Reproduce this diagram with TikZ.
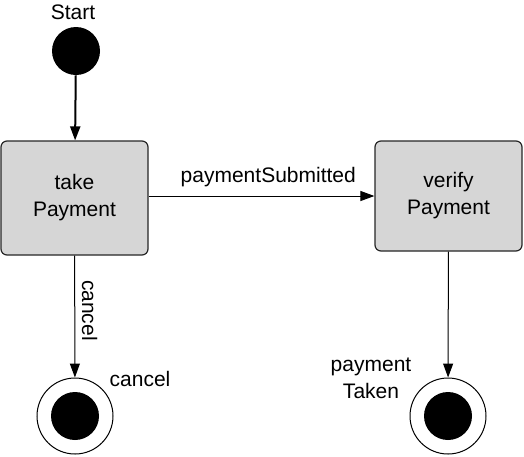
\documentclass[tikz,border=0pt]{standalone}
\usepackage{fontspec}
\setmainfont{Liberation Sans}
\usetikzlibrary{positioning}
\usetikzlibrary{arrows.meta}

\tikzset{
  statebox/.style={draw=black!85, line width=0.6pt, rounded corners=3pt,
    fill={rgb,255:red,214;green,214;blue,214}, align=center,
    minimum width=73.5pt, minimum height=57pt},
  initial/.style={circle, fill=black, minimum size=24pt, inner sep=0pt},
  final/.style={circle, draw, line width=0.5pt, minimum size=38pt, inner sep=0pt,
    path picture={\fill[black] (path picture bounding box.center) circle (12pt);}},
  flow/.style={line width=0.5pt, -{Triangle[length=7pt,width=5pt]}},
}

\begin{document}
\begin{tikzpicture}[x=0.5pt,y=-0.5pt,font=\fontsize{10.5}{13.5}\selectfont]
        \useasboundingbox (0,0) rectangle (524,456);

        \node [initial] (start) at (76,51) {};
        \node (startlbl) at (73,12) {Start};

        \node [statebox] (take) at (74.5,198) {take\\Payment};
        \node [statebox, minimum height=55pt] (verify) at (448.5,196) {verify\\Payment};

        \node [final] (cancelend) at (75,416) {};
        \node [final] (takenend) at (448,416) {};
        \node (cancellbl) at (140,379) {cancel};
        \node [align=center] (takenlbl) at (371,378) {payment\\Taken};

        \draw [flow, line width=1pt] (start) -- (take);
        \draw [flow] (take.east |- verify.west) -- (verify.west)
          node [above=1pt, pos=0.53] {paymentSubmitted};
        \draw [flow] (take) -- (cancelend)
          node [rotate=-90, anchor=south, pos=0.45] {cancel};
        \draw [flow] (verify) -- (takenend);
      \end{tikzpicture}
\end{document}
